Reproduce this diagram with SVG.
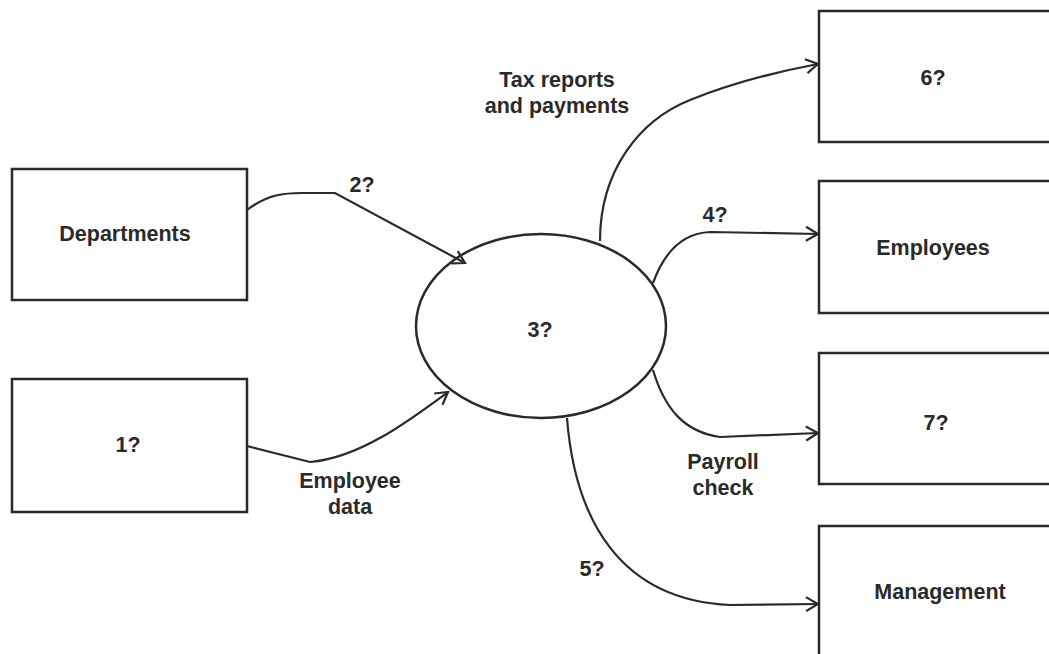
<svg xmlns="http://www.w3.org/2000/svg" width="1049" height="654" viewBox="0 0 1049 654">
<style>
.box{fill:#fff;stroke:#2a2a2a;stroke-width:2.5}
.lbl{font-family:"Liberation Sans",Arial,sans-serif;font-weight:bold;font-size:21.5px;fill:#2a2a2a;text-anchor:middle}
.con{fill:none;stroke:#2a2a2a;stroke-width:2.2;marker-end:url(#arr)}
</style>
<defs>
<marker id="arr" markerUnits="userSpaceOnUse" markerWidth="18" markerHeight="18" refX="15" refY="9" orient="auto">
<path d="M3,2 L15,9 L3,16" fill="none" stroke="#2a2a2a" stroke-width="2.2"/>
</marker>
</defs>
<rect width="1049" height="654" fill="#fff"/>
<g id="departments"><rect class="box" x="12" y="169" width="235" height="131"/><text class="lbl" x="125" y="241">Departments</text></g>
<g id="node1"><rect class="box" x="12" y="379" width="235" height="133"/><text class="lbl" x="128" y="452">1?</text></g>
<g id="process3"><ellipse class="box" cx="541" cy="326" rx="125" ry="92"/><text class="lbl" x="540" y="337">3?</text></g>
<g id="node6"><rect class="box" x="819" y="11" width="245" height="131"/><text class="lbl" x="933" y="85">6?</text></g>
<g id="employees"><rect class="box" x="819" y="181" width="245" height="132"/><text class="lbl" x="933" y="255">Employees</text></g>
<g id="node7"><rect class="box" x="819" y="353" width="245" height="131"/><text class="lbl" x="936" y="430">7?</text></g>
<g id="management"><rect class="box" x="819" y="526" width="245" height="140"/><text class="lbl" x="940" y="599">Management</text></g>
<g id="connectors">
<path class="con" d="M247,210 C268,194 285,193 302,193 L335,193 L465,263"/>
<path class="con" d="M247,446 L310,462 C360,458 410,420 448,392"/>
<path class="con" d="M600,241 C600,170 640,120 690,100 C730,84 770,73 818,64"/>
<path class="con" d="M653,283 C665,250 685,233 710,232 L818,234"/>
<path class="con" d="M653,370 C665,410 685,432 720,437 L818,433"/>
<path class="con" d="M567,418 C575,520 620,600 730,605 L818,604"/>
</g>
<g id="labels">
<text class="lbl" x="362" y="192">2?</text>
<text class="lbl" x="557" y="87">Tax reports</text>
<text class="lbl" x="557" y="113">and payments</text>
<text class="lbl" x="715" y="222">4?</text>
<text class="lbl" x="723" y="469">Payroll</text>
<text class="lbl" x="723" y="495">check</text>
<text class="lbl" x="592" y="576">5?</text>
<text class="lbl" x="350" y="488">Employee</text>
<text class="lbl" x="350" y="514">data</text>
</g>
</svg>
